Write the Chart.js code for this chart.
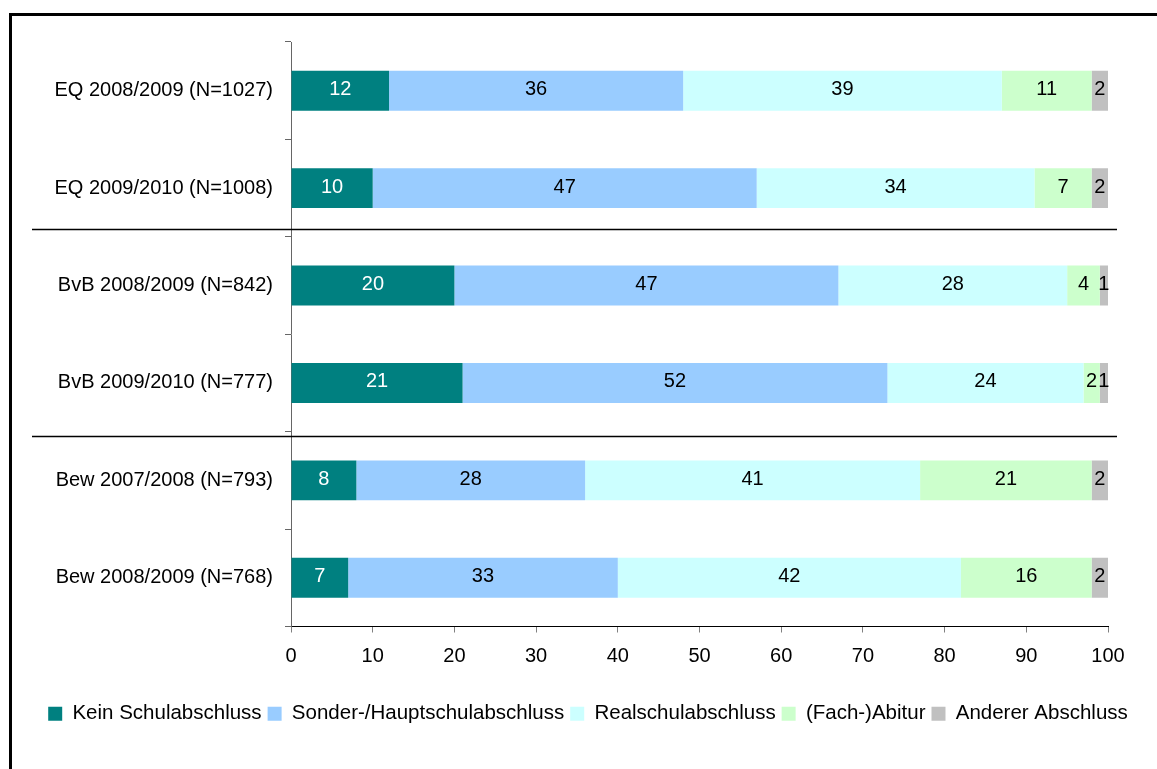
<!DOCTYPE html>
<html>
<head>
<meta charset="utf-8">
<script src="https://cdn.jsdelivr.net/npm/chart.js@4/dist/chart.umd.min.js"></script>
<style>
  body { margin: 0; background: #fff; }
  #wrap { position: relative; width: 1157px; height: 769px; overflow: hidden; }
  #frame { position: absolute; left: 9px; top: 13px; width: 1300px; height: 900px;
           border-left: 3px solid #000; border-top: 3px solid #000; }
  canvas { position: absolute; left: 0; top: 0; }
</style>
</head>
<body>
<div id="wrap">
  <div id="frame"></div>
  <canvas id="chart" width="1157" height="769"></canvas>
</div>
<script>
const categories = [
  "EQ 2008/2009 (N=1027)",
  "EQ 2009/2010 (N=1008)",
  "BvB 2008/2009 (N=842)",
  "BvB 2009/2010 (N=777)",
  "Bew 2007/2008 (N=793)",
  "Bew 2008/2009 (N=768)"
];
const seriesNames = [
  "Kein Schulabschluss",
  "Sonder-/Hauptschulabschluss",
  "Realschulabschluss",
  "(Fach-)Abitur",
  "Anderer Abschluss"
];
const keinAbschluss = [12, 10, 20, 21, 8, 7];
const hauptschule   = [36, 47, 47, 52, 28, 33];
const realschule    = [39, 34, 28, 24, 41, 42];
const abitur        = [11, 7, 4, 2, 21, 16];
const anderer       = [2, 2, 1, 1, 2, 2];
const xTicks = [0, 10, 20, 30, 40, 50, 60, 70, 80, 90, 100];

const colors = ["#008080", "#99CCFF", "#CCFFFF", "#CCFFCC", "#C0C0C0"];
const labelColors = ["#ffffff", "#000", "#000", "#000", "#000"];
const FONT = "'Liberation Sans', Arial, sans-serif";

const seriesData = [keinAbschluss, hauptschule, realschule, abitur, anderer];

// Werte mittig in die Segmente schreiben
const valueLabels = {
  id: "valueLabels",
  afterDatasetsDraw(chart) {
    const ctx = chart.ctx;
    ctx.save();
    ctx.font = "20px " + FONT;
    ctx.textAlign = "center";
    ctx.textBaseline = "middle";
    chart.data.datasets.forEach((ds, i) => {
      const meta = chart.getDatasetMeta(i);
      meta.data.forEach((bar, j) => {
        const x = (bar.x + bar.base) / 2;
        ctx.fillStyle = labelColors[i];
        ctx.fillText(String(ds.data[j]), x, bar.y - 1);
      });
    });
    ctx.restore();
  }
};

// Trennlinien zwischen den Gruppen
const groupLines = {
  id: "groupLines",
  afterDraw(chart) {
    const ctx = chart.ctx;
    const y = chart.scales.y;
    const area = chart.chartArea;
    ctx.save();
    ctx.strokeStyle = "#000";
    ctx.lineWidth = 1.5;
    [[1, 2, -8], [3, 4, 4]].forEach(([a, b, off]) => {
      const py = Math.round((y.getPixelForValue(a) + y.getPixelForValue(b)) / 2) + off + 0.5;
      ctx.beginPath();
      ctx.moveTo(area.left - 259, py);
      ctx.lineTo(area.right + 9, py);
      ctx.stroke();
    });
    ctx.restore();
  }
};

Chart.defaults.font.family = FONT;
Chart.defaults.font.size = 20;
Chart.defaults.color = "#000";

new Chart(document.getElementById("chart").getContext("2d"), {
  type: "bar",
  data: {
    labels: categories,
    datasets: seriesNames.map((name, i) => ({
      label: name,
      data: seriesData[i],
      backgroundColor: colors[i],
      borderWidth: 0,
      barPercentage: 0.41,
      categoryPercentage: 1
    }))
  },
  options: {
    indexAxis: "y",
    responsive: false,
    animation: false,
    events: [],
    layout: { padding: { top: 42, left: 19, right: 0, bottom: 35 } },
    scales: {
      x: {
        stacked: true,
        min: 0,
        max: 100,
        afterBuildTicks: (s) => { s.ticks = xTicks.map(v => ({ value: v })); },
        afterFit: (s) => { s.height = 71; },
        grid: { drawOnChartArea: false, tickLength: 6, color: "#808080" },
        border: { color: "#000", width: 1 },
        ticks: { padding: 12, font: { size: 20 } }
      },
      y: {
        stacked: true,
        afterFit: (s) => { s.width = 272; },
        grid: { drawOnChartArea: false, tickLength: 6, color: "#666", offset: true },
        border: { color: "#666", width: 1 },
        ticks: { padding: 12, font: { size: 20 } }
      },
      // leere Achse rechts, nur als Abstand
      yRight: {
        type: "category",
        position: "right",
        grid: { display: false },
        border: { display: false },
        ticks: { display: false },
        afterFit: (s) => { s.width = 49; }
      }
    },
    plugins: {
      legend: {
        position: "bottom",
        labels: {
          boxWidth: 14,
          boxHeight: 14,
          padding: 6,
          font: { size: 20.5 }
        }
      },
      tooltip: { enabled: false }
    }
  },
  plugins: [valueLabels, groupLines]
});
</script>
</body>
</html>
